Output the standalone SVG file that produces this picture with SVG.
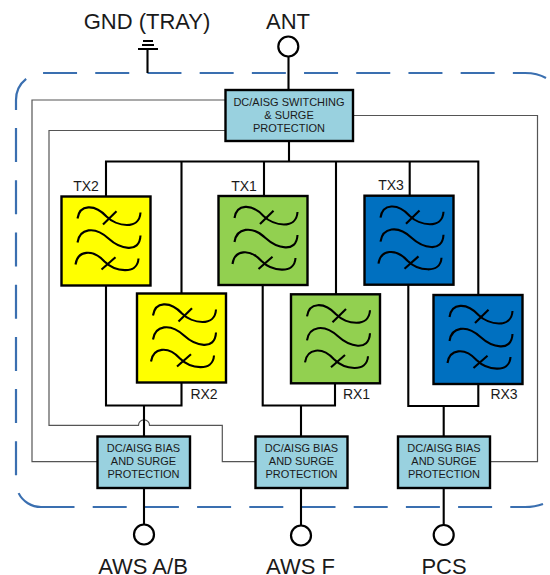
<svg xmlns="http://www.w3.org/2000/svg" width="550" height="575" viewBox="0 0 550 575">
<style>
text{font-family:"Liberation Sans",Arial,sans-serif;fill:#1a1a1a;text-anchor:middle}
.big{font-size:22px}.mid{font-size:14px}.small{font-size:11px}
.w{fill:none;stroke:#000;stroke-width:2.1px}
.box{stroke:#000;stroke-width:2.4px}
.blue{fill:#99d1df}
.bus{fill:none;stroke:#000;stroke-width:2.1px}
.ctl{fill:none;stroke:#555;stroke-width:1.2px}
.dash{fill:none;stroke:#3a6fb0;stroke-width:2.2px;stroke-dasharray:34 18.2}
.port{fill:#fff;stroke:#000;stroke-width:2.2px}
</style>
<defs>
<g id="filter">
<rect class="box" x="0" y="0" width="89" height="89"/>
<path class="w" d="M16 22C18 8 33 7 45 20C55 30 78 34 79 16"/>
<path class="w" d="M41.500 28L55 14.700"/>
<path class="w" d="M16 46C18 32 33 29 47 42C58 52 78 58 79 39"/>
<path class="w" d="M14 68C16 54 31 52 43 65C53 75 76 79 77 62"/>
<path class="w" d="M40 73L54 60.700"/>
</g>
</defs>
<path class="dash" d="M546 78C540 74.500 535 73 525 73L43 73A27 27 0 0 0 16 100L16 482A25 25 0 0 0 41 507"/>
<path class="dash" d="M40.500 507L525 507Q535 507 543 504"/>
<g id="connectors">
<path class="ctl" d="M225 100H32V461.700H97.500"/>
<path class="ctl" d="M225 130.500H49V425.300H138.500A5.500 5.500 0 0 1 149.500 425.300H222.300V461.700H255.500"/>
<path class="ctl" d="M353 115.500H537.500V461.700H490"/>
<path class="bus" d="M288.500 57V90M289 141V161.500M106 196V161.500H478.300V294.500M181.500 161.500V294M264 161.500V196M336 161.500V294M409.700 161.500V195.500"/>
<path class="bus" d="M106 285V405.500H181.500V382M144 405.500V436.500M144 488V524"/>
<path class="bus" d="M262.700 285V405.500H335V383M301 405.500V436.500M301 488V525"/>
<path class="bus" d="M408.300 284V406H478.300V383.500M443.700 406V436.500M443.700 488V525"/>
<path class="bus" d="M147.500 73V49"/>
</g>
<g id="gnd">
<path class="bus" d="M138 49H158M142 45H154M143 41H153"/>
<text class="big" x="147" y="29">GND (TRAY)</text>
</g>
<g id="ant"><circle class="port" cx="288.300" cy="46.500" r="10"/><text class="big" x="288" y="29">ANT</text></g>
<g id="switch"><rect class="box blue" x="225.500" y="90" width="127.500" height="51"/>
<text class="small" x="289" y="106">DC/AISG SWITCHING</text><text class="small" x="289" y="119">&amp; SURGE</text><text class="small" x="289" y="131.500">PROTECTION</text></g>
<g id="tx2"><use href="#filter" x="61.500" y="196.500" fill="#ffff00"/><text class="mid" x="86" y="191">TX2</text></g>
<g id="rx2"><use href="#filter" x="137" y="293.500" fill="#ffff00"/><text class="mid" x="204" y="399">RX2</text></g>
<g id="tx1"><use href="#filter" x="218.500" y="196" fill="#92d050"/><text class="mid" x="244" y="191">TX1</text></g>
<g id="rx1"><use href="#filter" x="291" y="294.300" fill="#92d050"/><text class="mid" x="356.500" y="399">RX1</text></g>
<g id="tx3"><use href="#filter" x="364.500" y="195.700" fill="#0070c0"/><text class="mid" x="391" y="190">TX3</text></g>
<g id="rx3"><use href="#filter" x="433.500" y="295" fill="#0070c0"/><text class="mid" x="504" y="399">RX3</text></g>
<g id="bias1"><rect class="box blue" x="97.500" y="436.500" width="92.500" height="51.500"/>
<text class="small" x="143.500" y="452.300">DC/AISG BIAS</text><text class="small" x="143.500" y="465">AND SURGE</text><text class="small" x="143.500" y="478">PROTECTION</text>
<circle class="port" cx="144" cy="534.500" r="10"/><text class="big" x="143" y="573.500">AWS A/B</text></g>
<g id="bias2"><rect class="box blue" x="255.500" y="436.500" width="92" height="51.500"/>
<text class="small" x="301.500" y="452.300">DC/AISG BIAS</text><text class="small" x="301.500" y="465">AND SURGE</text><text class="small" x="301.500" y="478">PROTECTION</text>
<circle class="port" cx="301" cy="535.500" r="10"/><text class="big" x="300.500" y="573.500">AWS F</text></g>
<g id="bias3"><rect class="box blue" x="398" y="436.500" width="92" height="51.500"/>
<text class="small" x="444" y="452.300">DC/AISG BIAS</text><text class="small" x="444" y="465">AND SURGE</text><text class="small" x="444" y="478">PROTECTION</text>
<circle class="port" cx="443.700" cy="535" r="10"/><text class="big" x="444" y="573.500">PCS</text></g>
</svg>
